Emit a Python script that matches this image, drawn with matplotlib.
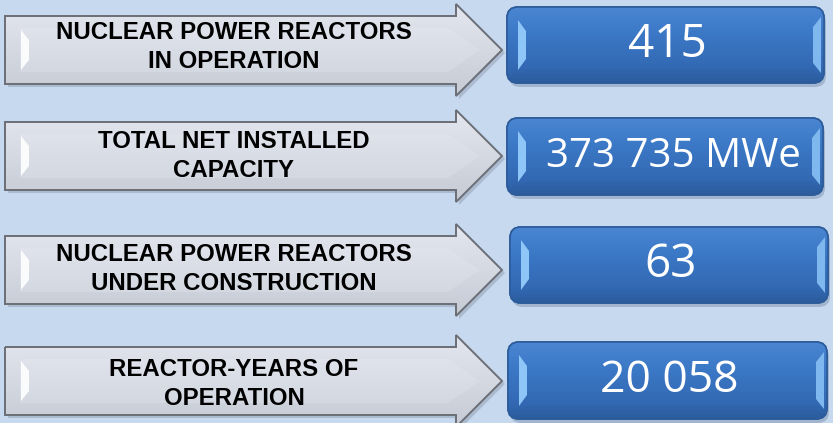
import numpy as np
import matplotlib
matplotlib.use("Agg")
import matplotlib.pyplot as plt
from matplotlib.patches import Polygon, FancyBboxPatch
from matplotlib.colors import LinearSegmentedColormap

# ---- data ----
labels = [
    "NUCLEAR POWER REACTORS\nIN OPERATION",
    "TOTAL NET INSTALLED\nCAPACITY",
    "NUCLEAR POWER REACTORS\nUNDER CONSTRUCTION",
    "REACTOR-YEARS OF\nOPERATION",
]
values = ["415", "373 735 MWe", "63", "20 058"]

# ---- layout (pixel coordinates) ----
arrow_cy = [50, 156, 270, 381]
label_cy = [47, 156, 269, 384]
box_rect = [(507, 7, 824, 83), (507, 118, 823, 195), (510, 227, 828, 303), (508, 342, 827, 419)]
value_sizes = [33, 29, 33, 32]
value_dx = [2, 8, 2, 2]

W, H = 833, 423
fig = plt.figure(figsize=(W / 100, H / 100), dpi=100)
fig.patch.set_facecolor("#c6d9ef")
ax = fig.add_axes([0, 0, 1, 1])
ax.set_xlim(0, W)
ax.set_ylim(H, 0)
ax.axis("off")
ax.set_facecolor("#c6d9ef")


def grad_fill(poly_xy, colors, stops, y0, y1, zorder):
    cmap = LinearSegmentedColormap.from_list("g", list(zip(stops, colors)))
    g = np.linspace(0, 1, 256).reshape(-1, 1)
    xs = [p[0] for p in poly_xy]
    im = ax.imshow(g, cmap=cmap, aspect="auto",
                   extent=(min(xs), max(xs), y1, y0), zorder=zorder,
                   interpolation="bilinear")
    clip = Polygon(poly_xy, closed=True, transform=ax.transData, facecolor="none", edgecolor="none")
    ax.add_patch(clip)
    im.set_clip_path(clip)
    return im


def arrow_poly(cy, x0=5, xh=456, tip=502, bh=34, hh=46):
    return [(x0, cy - bh), (xh, cy - bh), (xh, cy - hh), (tip, cy),
            (xh, cy + hh), (xh, cy + bh), (x0, cy + bh)]


for i, cy in enumerate(arrow_cy):
    shp = [(x + 3, y + 3) for x, y in arrow_poly(cy)]
    ax.add_patch(Polygon(shp, closed=True, facecolor="#8a96a8", edgecolor="none", alpha=0.45, zorder=1))
    outer = arrow_poly(cy)
    grad_fill(outer, ["#e4e7ef", "#d5d9e2", "#c6cad4"], [0, 0.5, 1], cy - 46, cy + 46, 2)
    inner = [(20, cy - 22), (448, cy - 22), (480, cy), (448, cy + 22), (20, cy + 22)]
    grad_fill(inner, ["#e0e3eb", "#d9dde6", "#d4d8e1"], [0, 0.5, 1], cy - 22, cy + 22, 3)
    ax.add_patch(Polygon(outer, closed=True, facecolor="none", edgecolor="#6b6e75", lw=1.4, zorder=4))
    ax.add_patch(Polygon([(21, cy - 20), (29, cy - 10), (29, cy + 10), (21, cy + 20)], closed=True,
                         facecolor="white", edgecolor="none", alpha=0.9, zorder=4))
    ax.text(234, label_cy[i], labels[i], ha="center", va="center", fontsize=17.3, fontweight="bold",
            family=["Liberation Sans Narrow", "Liberation Sans", "DejaVu Sans"],
            color="black", linespacing=1.3, zorder=6)

for i, (x0, y0, x1, y1) in enumerate(box_rect):
    r = 11
    ax.add_patch(FancyBboxPatch((x0 + 2, y0 + 4), x1 - x0, y1 - y0,
                                boxstyle=f"round,pad=0,rounding_size={r}",
                                facecolor="#7f93b0", edgecolor="none", alpha=0.5, zorder=1))
    box = FancyBboxPatch((x0, y0), x1 - x0, y1 - y0, boxstyle=f"round,pad=0,rounding_size={r}",
                         facecolor="#3a72bf", edgecolor="#2d5c9a", lw=1.2, zorder=2)
    ax.add_patch(box)
    g = np.linspace(0, 1, 256).reshape(-1, 1)
    cmap = LinearSegmentedColormap.from_list("b", [(0, "#4a86d2"), (0.35, "#3b78c6"), (0.8, "#3369b3"), (1, "#2a5b9c")])
    im = ax.imshow(g, cmap=cmap, aspect="auto", extent=(x0, x1, y1, y0), zorder=2.5, interpolation="bilinear")
    im.set_clip_path(box)
    ax.add_patch(FancyBboxPatch((x0, y0), x1 - x0, y1 - y0, boxstyle=f"round,pad=0,rounding_size={r}",
                                facecolor="none", edgecolor="#2d5c9a", lw=1.2, zorder=3))
    ax.add_patch(Polygon([(x0 + 11, y0 + 13), (x0 + 19, y0 + 24), (x0 + 19, y1 - 24), (x0 + 11, y1 - 13)],
                         closed=True, facecolor="#8ec6f7", edgecolor="none", zorder=3.5))
    ax.add_patch(Polygon([(x1 - 3, y0 + 10), (x1 - 11, y0 + 20), (x1 - 11, y1 - 20), (x1 - 3, y1 - 10)],
                         closed=True, facecolor="#7fb8ee", edgecolor="none", zorder=3.5))
    ax.plot([x0 + 19, x1 - 11], [y1 - 13, y1 - 13], color="#2e62a8", lw=1.0, alpha=0.6, zorder=3.4)
    ax.text((x0 + x1) / 2 + value_dx[i], (y0 + y1) / 2, values[i], ha="center", va="center",
            fontsize=value_sizes[i], color="white",
            family=["Open Sans", "DejaVu Sans"], zorder=6)

fig.savefig("out.png", dpi=100, facecolor=fig.get_facecolor())
